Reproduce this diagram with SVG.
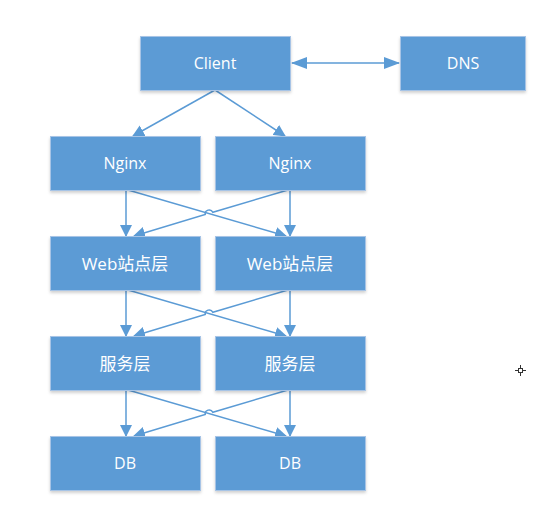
<svg xmlns="http://www.w3.org/2000/svg" width="547" height="509" viewBox="0 0 547 509">
<defs>
<style>
.box rect{fill:#5B9BD5;stroke:#A7C4E6;stroke-width:1;filter:url(#sh)}
.box text{fill:#ffffff;font-family:"Open Sans","Noto Sans CJK SC",sans-serif;font-size:16px;text-anchor:middle;dominant-baseline:central}
.box text.cn{font-size:17px}
.con path{fill:none;stroke:#5B9BD5;stroke-width:1.5}
</style>
<filter id="sh" x="-10%" y="-10%" width="120%" height="140%">
<feDropShadow dx="0" dy="2" stdDeviation="1.5" flood-color="#000" flood-opacity="0.18"/>
</filter>
<marker id="ah" viewBox="0 0 12 12" refX="11" refY="6" markerWidth="12" markerHeight="12" markerUnits="userSpaceOnUse" orient="auto">
<path d="M0,0 L12,6 L0,12 z" fill="#5B9BD5"/>
</marker>
<marker id="ah2" viewBox="0 0 16 12" refX="15" refY="6" markerWidth="16" markerHeight="12" markerUnits="userSpaceOnUse" orient="auto-start-reverse">
<path d="M0,0 L16,6 L0,12 z" fill="#5B9BD5"/>
</marker>
</defs>
<rect width="547" height="509" fill="#ffffff"/>
<g id="connectors" class="con">
<path d="M292,63 L399,63" marker-start="url(#ah2)" marker-end="url(#ah2)"/>
<path d="M215,90 L133,136" marker-end="url(#ah)"/>
<path d="M215,90 L285,136" marker-end="url(#ah)"/>
<path d="M126,190 L126,236" marker-end="url(#ah)"/>
<path d="M290,190 L290,236" marker-end="url(#ah)"/>
<path d="M128,190 L286,236" marker-end="url(#ah)"/>
<path d="M288,190 L212.8,212.3 A4,4 0 0 0 205.2,214.5 L134,236" marker-end="url(#ah)"/>
<path d="M126,290 L126,336" marker-end="url(#ah)"/>
<path d="M290,290 L290,336" marker-end="url(#ah)"/>
<path d="M128,290 L286,336" marker-end="url(#ah)"/>
<path d="M288,290 L212.8,312.3 A4,4 0 0 0 205.2,314.5 L134,336" marker-end="url(#ah)"/>
<path d="M126,390 L126,436" marker-end="url(#ah)"/>
<path d="M290,390 L290,436" marker-end="url(#ah)"/>
<path d="M128,390 L286,436" marker-end="url(#ah)"/>
<path d="M288,390 L212.8,412.3 A4,4 0 0 0 205.2,414.5 L134,436" marker-end="url(#ah)"/>
</g>
<g id="client" class="box"><rect x="140.5" y="36.5" width="150" height="54"/><text x="215" y="63">Client</text></g>
<g id="dns" class="box"><rect x="400.5" y="36.5" width="125" height="54"/><text x="463" y="63">DNS</text></g>
<g id="nginx1" class="box"><rect x="50.5" y="136.5" width="150" height="54"/><text x="125" y="163">Nginx</text></g>
<g id="nginx2" class="box"><rect x="215.5" y="136.5" width="150" height="54"/><text x="290" y="163">Nginx</text></g>
<g id="web1" class="box"><rect x="50.5" y="236.5" width="150" height="54"/><text class="cn" x="125" y="263">Web站点层</text></g>
<g id="web2" class="box"><rect x="215.5" y="236.5" width="150" height="54"/><text class="cn" x="290" y="263">Web站点层</text></g>
<g id="svc1" class="box"><rect x="50.5" y="336.5" width="150" height="54"/><text class="cn" x="125" y="363">服务层</text></g>
<g id="svc2" class="box"><rect x="215.5" y="336.5" width="150" height="54"/><text class="cn" x="290" y="363">服务层</text></g>
<g id="db1" class="box"><rect x="50.5" y="436.5" width="150" height="54"/><text x="125" y="463">DB</text></g>
<g id="db2" class="box"><rect x="215.5" y="436.5" width="150" height="54"/><text x="290" y="463">DB</text></g>
<g id="cursor" stroke="#333" stroke-width="1" fill="none">
<path d="M515,370.5 H518.5 M522.5,370.5 H526 M520.5,365 V368.5 M520.5,372.5 V376"/>
<rect x="518.5" y="368.5" width="4" height="4"/>
</g>
</svg>
